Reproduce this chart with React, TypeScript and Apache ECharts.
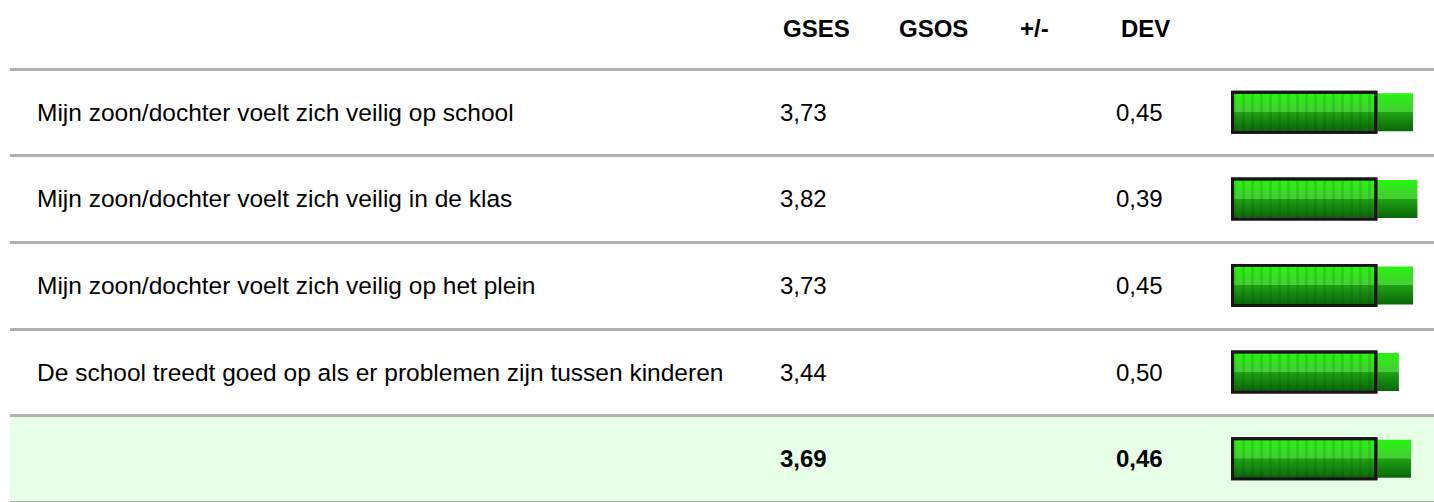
import React, { useEffect, useRef } from "react";
import * as echarts from "echarts";

const questions = [
  "Mijn zoon/dochter voelt zich veilig op school",
  "Mijn zoon/dochter voelt zich veilig in de klas",
  "Mijn zoon/dochter voelt zich veilig op het plein",
  "De school treedt goed op als er problemen zijn tussen kinderen",
  "",
];
const gses = [3.73, 3.82, 3.73, 3.44, 3.69];
const dev = [0.45, 0.39, 0.45, 0.5, 0.46];
const frameValues = [3, 3, 3, 3, 3];
const headers = ["GSES", "GSOS", "+/-", "DEV"];
const headerX = [783, 899, 1020, 1121];
const totalIndex = 4;

const FONT = "'Liberation Sans', Arial, Helvetica, sans-serif";
const fmt = (v: number) => v.toFixed(2).replace(".", ",");

export default function App() {
  const ref = useRef<HTMLDivElement>(null);
  useEffect(() => {
    if (!ref.current) return;
    const chart = echarts.init(ref.current, undefined, { renderer: "svg" });
    const rowTop = 69;
    const rowH = 88.1;
    const gridH = rowH * questions.length;
    const labelBase = (size: number) => ({
      fontFamily: FONT,
      fontSize: size,
      color: "#000",
      align: "left" as const,
      rich: { b: { fontFamily: FONT, fontSize: size, fontWeight: "bold", color: "#000" } },
    });
    const hiddenCat = (gridIdx: number, margin: number, size: number, formatter: any) => ({
      type: "category",
      gridIndex: gridIdx,
      data: questions,
      inverse: true,
      position: "left",
      axisLine: { show: false },
      axisTick: { show: false },
      splitLine: { show: false },
      axisLabel: { ...labelBase(size), margin, formatter, interval: 0 },
    });
    const option: any = {
      animation: false,
      backgroundColor: "#fff",
      grid: [
        { left: 1231, width: 4 * 48.8, top: rowTop, height: gridH },
        { left: 10, right: 0, top: rowTop, height: gridH },
      ],
      xAxis: [
        { type: "value", gridIndex: 0, min: 0, max: 4, show: false },
        { type: "value", gridIndex: 1, min: 0, max: 1, show: false },
      ],
      yAxis: [
        hiddenCat(0, 1231 - 37, 24.5, (v: string) => v),
        hiddenCat(0, 1231 - 780, 24, (v: string, i: number) =>
          i === totalIndex ? `{b|${fmt(gses[i])}}` : fmt(gses[i])
        ),
        hiddenCat(0, 1231 - 1116, 24, (v: string, i: number) =>
          i === totalIndex ? `{b|${fmt(dev[i])}}` : fmt(dev[i])
        ),
        {
          type: "category",
          gridIndex: 1,
          data: questions,
          inverse: true,
          axisLine: { show: false },
          axisTick: { show: false },
          axisLabel: { show: false },
          splitLine: { show: true, lineStyle: { color: "#b0b0b0", width: 3 } },
          splitArea: {
            show: true,
            areaStyle: {
              color: [
                "rgba(0,0,0,0)",
                "rgba(0,0,0,0)",
                "rgba(0,0,0,0)",
                "rgba(0,0,0,0)",
                "#e6ffe6",
              ],
            },
          },
        },
      ],
      graphic: headers.map((h, i) => ({
        type: "text",
        x: headerX[i],
        y: 28.5,
        style: {
          text: h,
          font: `bold 24px ${FONT}`,
          fill: "#000",
          verticalAlign: "middle",
          align: "left",
        },
      })),
      series: [
        {
          type: "bar",
          name: "GSES",
          xAxisIndex: 0,
          yAxisIndex: 0,
          data: gses,
          barWidth: 38,
          z: 2,
          itemStyle: {
            color: new echarts.graphic.LinearGradient(0, 0, 0, 1, [
              { offset: 0, color: "#26f50e" },
              { offset: 0.49, color: "#46cc36" },
              { offset: 0.5, color: "#1fa314" },
              { offset: 1, color: "#0a660a" },
            ]),
          },
        },
        {
          type: "bar",
          name: "rand",
          xAxisIndex: 0,
          yAxisIndex: 2,
          data: frameValues,
          barWidth: 39,
          z: 3,
          silent: true,
          itemStyle: {
            color: "rgba(0,0,0,0)",
            borderColor: "#ffffff",
            borderWidth: 1,
          },
        },
        {
          type: "bar",
          name: "schaal",
          xAxisIndex: 0,
          yAxisIndex: 1,
          data: frameValues,
          barWidth: 43,
          z: 4,
          silent: true,
          itemStyle: {
            color: "rgba(0,0,0,0)",
            borderColor: "#161616",
            borderWidth: 3,
            decal: {
              symbol: "rect",
              symbolSize: 1,
              dashArrayX: [3, 6],
              dashArrayY: [10, 0],
              rotation: 0,
              color: "rgba(0,50,0,0.12)",
            },
          },
        },
      ],
    };
    chart.setOption(option);
    return () => chart.dispose();
  }, []);
  return (
    <div
      ref={ref}
      style={{ position: "fixed", left: 0, top: 0, width: 1434, height: 502 }}
    />
  );
}
